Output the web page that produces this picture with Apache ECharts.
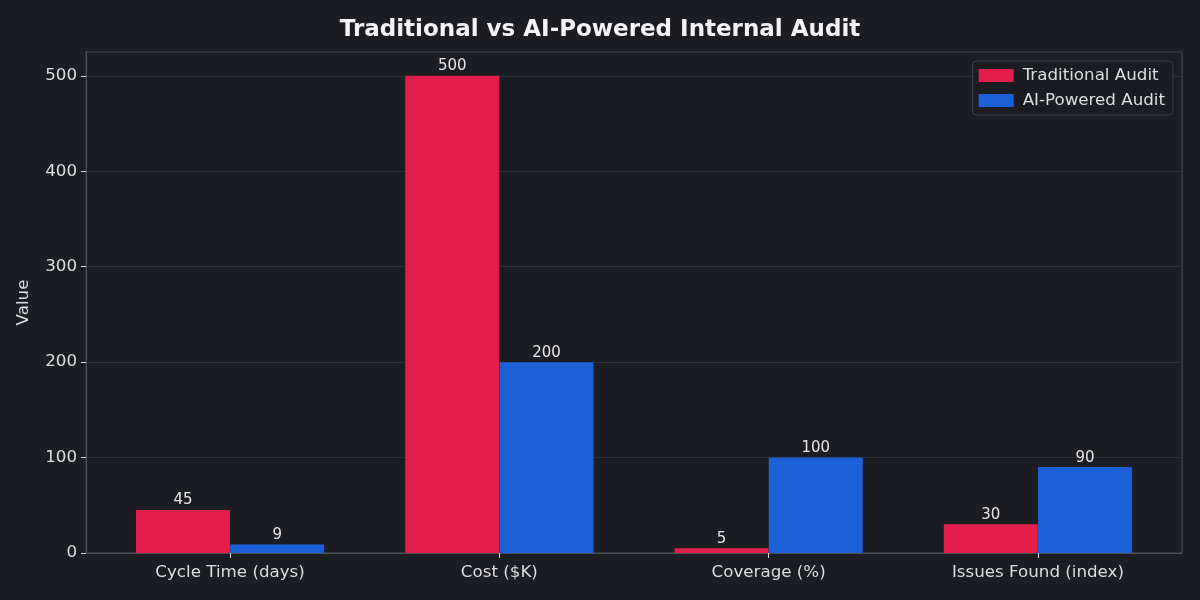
<!DOCTYPE html>
<html>
<head>
<meta charset="utf-8">
<script src="https://cdn.jsdelivr.net/npm/echarts@6/dist/echarts.min.js"></script>
<style>
html,body{margin:0;padding:0;background:#1b1d23;}
#chart{width:1200px;height:600px;}
</style>
</head>
<body>
<div id="chart"></div>
<script>
const categories = ['Cycle Time (days)', 'Cost ($K)', 'Coverage (%)', 'Issues Found (index)'];
const traditional = [45, 500, 5, 30];
const aiPowered = [9, 200, 100, 90];
const yTicks = [0, 100, 200, 300, 400, 500];
const seriesNames = ['Traditional Audit', 'AI-Powered Audit'];

const FONT = '"DejaVu Sans", sans-serif';
const RED = '#e31e4b';
const BLUE = '#1c60d8';
const TEXT = '#dcdde0';
const SPINE = '#4a4e58';
const BAR_W = 0.35;

const chart = echarts.init(document.getElementById('chart'), null, {renderer: 'canvas'});
const idx = categories.map((c, i) => i);

chart.setOption({
  backgroundColor: '#1b1d23',
  animation: false,
  title: {
    text: 'Traditional vs AI-Powered Internal Audit',
    left: 'center',
    top: 14,
    textStyle: {color: '#f4f4f6', fontFamily: FONT, fontWeight: 'bold', fontSize: 23}
  },
  legend: {
    orient: 'vertical',
    right: 27,
    top: 61,
    data: seriesNames,
    itemWidth: 35,
    itemHeight: 13,
    itemGap: 8,
    padding: [6, 8, 6, 6],
    backgroundColor: '#1a1c21',
    borderColor: '#3d414b',
    borderWidth: 1,
    borderRadius: 4,
    icon: 'rect',
    textStyle: {color: TEXT, fontFamily: FONT, fontSize: 16.7, padding: [0, 0, 0, 4]}
  },
  grid: {
    left: 86, right: 18, top: 52, bottom: 47,
    show: true, borderColor: SPINE, borderWidth: 1, backgroundColor: 'transparent'
  },
  xAxis: {
    type: 'value',
    min: -0.535,
    max: 3.535,
    splitLine: {show: false},
    axisLine: {show: true, onZero: false, lineStyle: {color: SPINE}},
    axisTick: {show: true, customValues: idx, length: 5, lineStyle: {color: TEXT}},
    axisLabel: {
      customValues: idx,
      formatter: v => categories[Math.round(v)],
      color: TEXT, fontFamily: FONT, fontSize: 16.7, margin: 11
    }
  },
  yAxis: {
    type: 'value',
    min: 0,
    max: 525,
    interval: 100,
    name: 'Value',
    nameLocation: 'middle',
    nameGap: 54,
    nameTextStyle: {color: TEXT, fontFamily: FONT, fontSize: 16.7},
    axisLine: {show: true, onZero: false, lineStyle: {color: SPINE}},
    axisTick: {show: true, length: 5, lineStyle: {color: TEXT}},
    axisLabel: {
      showMaxLabel: false,
      formatter: v => (yTicks.indexOf(v) >= 0 ? String(v) : ''),
      color: TEXT, fontFamily: FONT, fontSize: 16.7, margin: 9
    },
    splitLine: {show: true, lineStyle: {color: '#2b2e37', width: 1}}
  },
  series: [
    {
      name: seriesNames[0],
      type: 'bar',
      barWidth: 94,
      barGap: '-100%',
      itemStyle: {color: RED},
      data: traditional.map((v, i) => [i - BAR_W / 2, v]),
      label: {show: true, position: 'top', distance: 2, color: '#e6e6e8', fontFamily: FONT, fontSize: 15,
        formatter: p => String(p.value[1])}
    },
    {
      name: seriesNames[1],
      type: 'bar',
      barWidth: 94,
      barGap: '-100%',
      itemStyle: {color: BLUE},
      data: aiPowered.map((v, i) => [i + BAR_W / 2, v]),
      label: {show: true, position: 'top', distance: 2, color: '#e6e6e8', fontFamily: FONT, fontSize: 15,
        formatter: p => String(p.value[1])}
    }
  ]
});
</script>
</body>
</html>
